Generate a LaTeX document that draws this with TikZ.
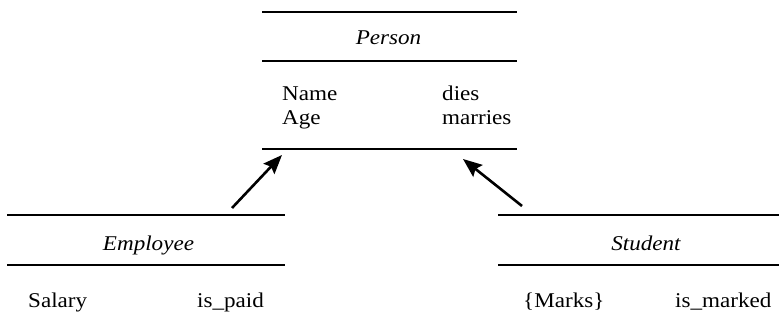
\documentclass[tikz,border=0pt]{standalone}
\usepackage{fontspec}
\setmainfont[FakeStretch=1.1]{Liberation Serif}
\usetikzlibrary{arrows.meta}
\begin{document}
\begin{tikzpicture}[x=1pt,y=-1pt,
  rule/.style={line width=1.6pt},
  member/.style={font=\fontsize{21}{24}\selectfont, anchor=base west, inner sep=0pt},
  classname/.style={font=\fontsize{21}{24}\selectfont\itshape, anchor=base, inner sep=0pt},
  isa/.style={line width=2.6pt, -{Stealth[length=19pt,width=15pt,inset=3pt]}}]
\useasboundingbox (0,0) rectangle (779,321);

% Person class
\draw[rule] (262,12) -- (517,12);
\draw[rule] (262,61) -- (517,61);
\draw[rule] (262,149) -- (517,149);
\node[classname] (person) at (388.5,45) {Person};
\node[member] (name) at (282,100) {Name};
\node[member] (age) at (282,124) {Age};
\node[member] (dies) at (442,100) {dies};
\node[member] (marries) at (442,124) {marries};

% Employee class
\draw[rule] (7,215) -- (285,215);
\draw[rule] (7,265) -- (285,265);
\node[classname] (employee) at (148.5,250) {Employee};
\node[member] (salary) at (28,307) {Salary};
\node[member] (ispaid) at (197,307) {is\_paid};

% Student class
\draw[rule] (498,215) -- (779,215);
\draw[rule] (498,265) -- (779,265);
\node[classname] (student) at (646,250) {Student};
\node[member] (marks) at (523,307) {\{Marks\}};
\node[member] (ismarked) at (675,307) {is\_marked};

% inheritance arrows
\coordinate (emp-up) at (232,208);
\coordinate (per-left) at (282,155);
\coordinate (stu-up) at (522,206);
\coordinate (per-right) at (463,159);
\draw[isa] (emp-up) -- (per-left);
\draw[isa] (stu-up) -- (per-right);
\end{tikzpicture}
\end{document}
